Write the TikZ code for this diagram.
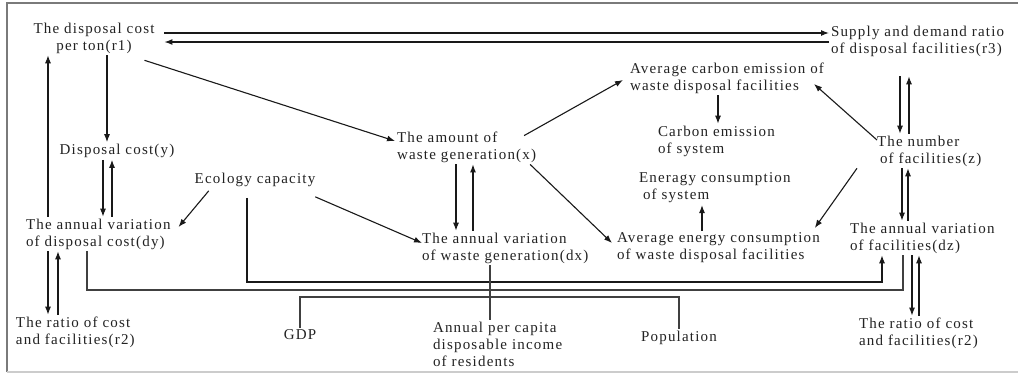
\documentclass[tikz,border=0pt]{standalone}
\usepackage{fontspec}
\setmainfont{Liberation Serif}[LetterSpace=8]
\usetikzlibrary{arrows.meta}
\definecolor{txt}{HTML}{222222}
\definecolor{frame}{HTML}{7A7A7A}
\tikzset{
  lbl/.style={inner sep=2pt, outer sep=0pt, text=txt, font=\fontsize{15}{17}\selectfont},
  lbll/.style={lbl, align=left, anchor=west},
  lblc/.style={lbl, align=center},
  arr/.style={draw=black!90, line width=1.1pt, -{Latex[length=8pt,width=6pt]}},
  ln/.style={draw=black!75, line width=1.3pt},
}
\begin{document}
\begin{tikzpicture}[x=1pt,y=-1pt]
\useasboundingbox (0,0) rectangle (1018,375);
\fill[white] (0,0) rectangle (1018,375);
% frame
\draw[frame, line width=2pt] (7,372) -- (7,3) -- (1018,3);
\draw[black!20, line width=1.2pt] (7,372) -- (1018,372);

% nodes
\node[lblc] (r1) at (94,38) {The disposal cost\\per ton(r1)};
\node[lbll] (r3) at (829,41) {Supply and demand ratio\\of disposal facilities(r3)};
\node[lblc] (y) at (117,151) {Disposal cost(y)};
\node[lbll] (dy) at (24,234) {The annual variation\\of disposal cost(dy)};
\node[lbll] (r2a) at (14,332) {The ratio of cost\\and facilities(r2)};
\node[lblc] (eco) at (255,180) {Ecology capacity};
\node[lbll] (x) at (395,147) {The amount of\\waste generation(x)};
\node[lbll] (dx) at (420,248) {The annual variation\\of waste generation(dx)};
\node[lbll] (cavg) at (628,78) {Average carbon emission of\\waste disposal facilities};
\node[lbll] (csys) at (656,141) {Carbon emission\\of system};
\node[lbll] (esys) at (637,188) {Eneragy consumption\\\hspace{4pt}of system};
\node[lbll] (eavg) at (615,248) {Average energy consumption\\of waste disposal facilities};
\node[lbll] (z) at (875,151) {The number\\\hspace{3pt}of facilities(z)};
\node[lbll] (dz) at (848,238) {The annual variation\\of facilities(dz)};
\node[lbll] (r2b) at (857,333) {The ratio of cost\\and facilities(r2)};
\node[lblc] (gdp) at (300,335) {GDP};
\node[lblc] (pop) at (679,338) {Population};
\node[lbll] (inc) at (431,344) {Annual per capita\\disposable income\\of residents};

% top pair r1 <-> r3
\draw[arr] ([xshift=8pt]r1.east |- 0,33) -- (r3.west |- 0,33);
\draw[arr] (r3.west |- 0,42) -- ([xshift=8pt]r1.east |- 0,42);

% left column
\draw[arr] (r1.south -| 107,0) -- (y.north -| 107,0);
\draw[arr] (y.south -| 103,0) -- (dy.north -| 103,0);
\draw[arr] (dy.north -| 112,0) -- (y.south -| 112,0);
\draw[arr] (dy.north -| 48,0) -- (r1.south -| 48,0);
\draw[arr] (dy.south -| 48,0) -- (r2a.north -| 48,0);
\draw[arr] (r2a.north -| 58,0) -- (dy.south -| 58,0);

% ecology
\draw[arr] ([xshift=16pt,yshift=-2pt]eco.south west) -- ([xshift=6pt,yshift=7pt]dy.east);
\draw[arr] ([xshift=-2pt,yshift=-8pt]eco.south east) -- ([xshift=2pt,yshift=5pt]dx.west);
\draw[arr] ([yshift=-9pt]eco.south -| 247,0) |- (882,282) -- (dz.south -| 882,0);

% dy to dz line
\draw[ln] (dy.south -| 87,0) |- (903,290) -- (dz.south -| 903,0);

% GDP - Population
\draw[ln] (gdp.north) |- (pop.north |- 0,297) -- (pop.north);
% income to dx
\draw[ln] (inc.north -| 490,0) -- (dx.south -| 490,0);

% r1 -> x
\draw[arr] ([xshift=-12pt,yshift=-5pt]r1.south east) -- ([yshift=6pt]x.west);
% x <-> dx
\draw[arr] (x.south -| 456,0) -- (dx.north -| 456,0);
\draw[arr] (dx.north -| 473,0) -- (x.south -| 473,0);
% x -> carbon / energy
\draw[arr] ([xshift=-14pt,yshift=-6pt]x.north east) -- ([xshift=-5pt,yshift=-2pt]cavg.west);
\draw[arr] ([xshift=-8pt]x.south east) -- ([xshift=-3pt,yshift=5pt]eavg.west);
% carbon avg -> system, energy avg -> system
\draw[arr] (cavg.south -| 718,0) -- (csys.north -| 718,0);
\draw[arr] (eavg.north -| 702,0) -- (esys.south -| 702,0);

% r3 <-> z
\draw[arr] ([yshift=-18pt]r3.south -| 900,0) -- (z.north -| 900,0);
\draw[arr] (z.north -| 909,0) -- ([yshift=-18pt]r3.south -| 909,0);
% z -> carbon / energy
\draw[arr] ([xshift=2pt,yshift=11pt]z.west) -- ([xshift=-12pt,yshift=-6pt]cavg.east);
\draw[arr] ([xshift=-18pt]z.south west) -- ([xshift=-7pt,yshift=3pt]eavg.north east);
% z <-> dz
\draw[arr] (z.south -| 902,0) -- (dz.north -| 902,0);
\draw[arr] (dz.north -| 908,0) -- (z.south -| 908,0);
% dz <-> r2
\draw[arr] (dz.south -| 912,0) -- (r2b.north -| 912,0);
\draw[arr] (r2b.north -| 919,0) -- (dz.south -| 919,0);
\end{tikzpicture}
\end{document}
